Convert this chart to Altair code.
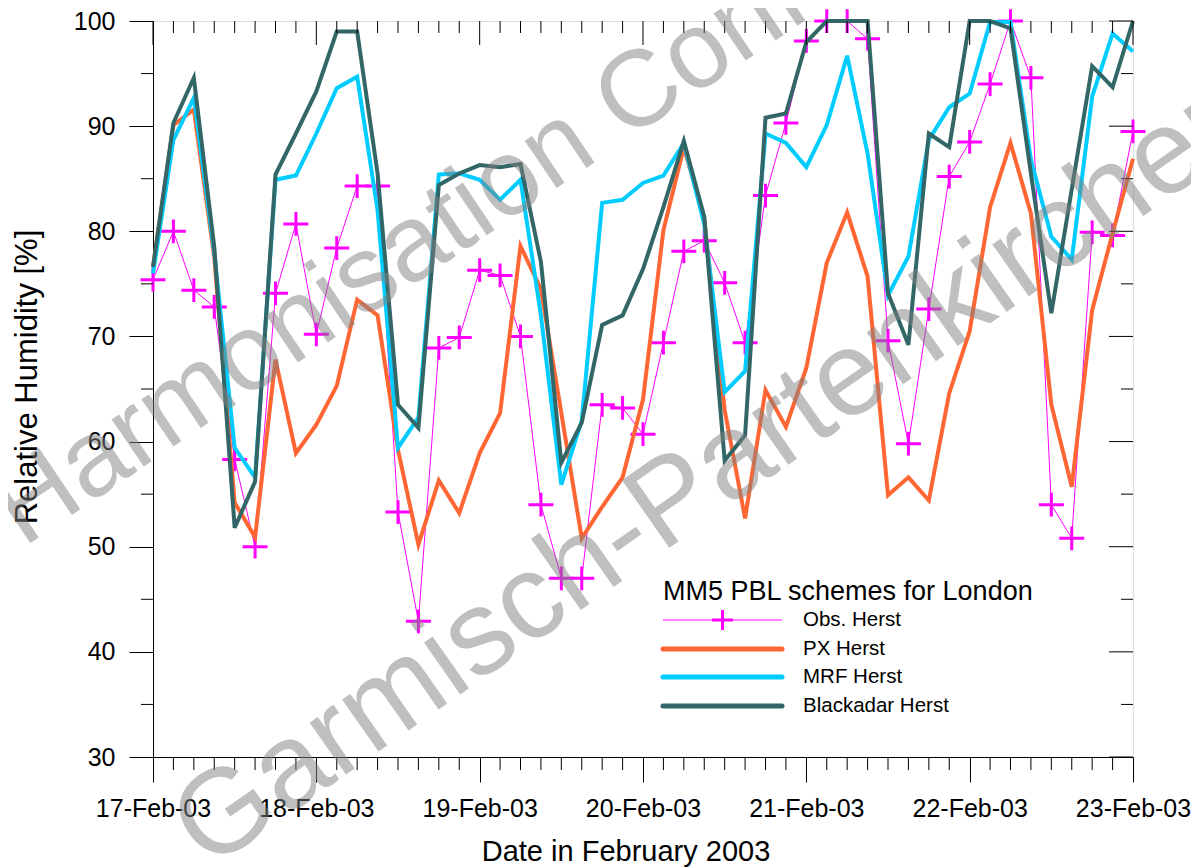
import altair as alt
import pandas as pd

# ---- data (3-hourly values, 17-Feb-03 00:00 to 23-Feb-03 00:00) ----
hours = [3 * i for i in range(49)]
obs = [75.4, 80.0, 74.4, 72.8, 58.3, 50.0, 74.1, 80.7, 70.2, 78.4,
       84.3, 84.3, 53.3, 42.9, 68.9, 69.9, 76.3, 75.8, 70.0, 54.0,
       47.0, 47.0, 63.5, 63.2, 60.7, 69.4, 78.1, 79.1, 75.1, 69.4,
       83.4, 90.3, 98.1, 100.0, 100.0, 98.3, 69.6, 59.8, 72.6, 85.2,
       88.5, 94.0, 100.0, 94.6, 54.0, 50.8, 79.9, 79.6, 89.5]
px = [76.6, 90.1, 91.6, 77.5, 54.2, 50.9, 67.8, 58.9, 61.6, 65.3,
      73.5, 72.0, 59.2, 50.2, 56.3, 53.2, 58.9, 62.7, 78.6, 74.5,
      62.7, 50.8, 53.8, 56.6, 64.0, 80.1, 88.0, 81.2, 63.0, 52.7,
      64.9, 61.4, 67.0, 77.0, 81.8, 75.7, 54.9, 56.6, 54.4, 64.6,
      70.5, 82.3, 88.4, 81.7, 63.5, 55.7, 72.5, 79.8, 86.9]
mrf = [76.0, 88.7, 92.7, 78.0, 59.4, 56.6, 84.9, 85.3, 89.3, 93.6,
       94.7, 82.0, 59.4, 62.3, 85.4, 85.5, 84.9, 83.0, 84.9, 72.0,
       55.9, 62.0, 82.7, 83.0, 84.6, 85.3, 88.4, 80.7, 64.7, 66.7,
       89.3, 88.4, 86.1, 90.1, 96.7, 87.4, 73.9, 77.6, 88.7, 91.8,
       93.1, 99.9, 99.9, 86.8, 79.5, 77.3, 92.8, 98.8, 97.1]
blackadar = [76.6, 90.3, 94.6, 78.5, 51.8, 56.2, 85.4, 89.3, 93.3, 99.0,
             99.0, 85.5, 63.5, 61.3, 84.4, 85.5, 86.3, 86.1, 86.4, 77.1,
             58.0, 61.8, 71.1, 72.0, 76.4, 82.3, 88.6, 81.4, 58.2, 60.6,
             90.8, 91.2, 98.0, 100.0, 100.0, 100.0, 74.1, 69.2, 89.3, 88.0,
             100.0, 100.0, 99.3, 85.5, 72.2, 84.0, 95.7, 93.7, 100.0]
day_labels = ["17-Feb-03", "18-Feb-03", "19-Feb-03", "20-Feb-03",
              "21-Feb-03", "22-Feb-03", "23-Feb-03"]
y_major = [30, 40, 50, 60, 70, 80, 90, 100]
y_minor = [35, 45, 55, 65, 75, 85, 95]
series_names = ["Obs. Herst", "PX Herst", "MRF Herst", "Blackadar Herst"]
series_colors = ["#FF00FF", "#FF6633", "#00CCFF", "#336666"]
x_title = "Date in February 2003"
y_title = "Relative Humidity [%]"
legend_title = "MM5 PBL schemes for London"

W, H = 980, 736
FONT = "Liberation Sans"

day_hours = [24 * k for k in range(len(day_labels))]
minor_hours = [h for h in hours if h % 24 != 0]

df = pd.DataFrame({"h": hours, "obs": obs, "px": px, "mrf": mrf, "bl": blackadar})
one = pd.DataFrame({"a": [0]})
xs = alt.Scale(domain=[0, 144], nice=False, zero=False)
ys = alt.Scale(domain=[30, 100], nice=False, zero=False)

label_expr = "[" + ",".join("'%s'" % s for s in day_labels) + "][round(datum.value/24)]"

base = alt.Chart(df)

obs_line = base.mark_line(color=series_colors[0], strokeWidth=1).encode(
    x=alt.X("h:Q", scale=xs, axis=alt.Axis(
        values=day_hours, labelExpr=label_expr, tickSize=25, grid=False,
        labelFont=FONT, labelFontSize=25, labelColor="black", labelPadding=14,
        labelFlush=False, labelOverlap=False, domainColor="black", tickColor="black",
        title="")),
    y=alt.Y("obs:Q", scale=ys, axis=alt.Axis(
        values=y_major, tickSize=24, grid=False, labelFont=FONT, labelFontSize=25,
        labelColor="black", labelPadding=14, labelFlush=False, domainColor="black",
        tickColor="black", title="")),
)

cross = "M-1,0L1,0M0,-0.95L0,0.95"
obs_pts = base.mark_point(shape=cross, size=625, stroke=series_colors[0], strokeWidth=3,
                          filled=False, opacity=1).encode(
    x=alt.X("h:Q", scale=xs), y=alt.Y("obs:Q", scale=ys))

def model_line(field, color):
    return base.mark_line(color=color, strokeWidth=4).encode(
        x=alt.X("h:Q", scale=xs), y=alt.Y(field + ":Q", scale=ys))

px_line = model_line("px", series_colors[1])
mrf_line = model_line("mrf", series_colors[2])
bl_line = model_line("bl", series_colors[3])

# extra ticks (minor bottom, top inward, left minor, right inward)
dmin = pd.DataFrame({"h": minor_hours})
dday = pd.DataFrame({"h": day_hours})
dy5 = pd.DataFrame({"obs": y_minor})
dy10 = pd.DataFrame({"obs": y_major})

def vtick(data, y0, y1):
    return alt.Chart(data).mark_rule(color="black", strokeWidth=1).encode(
        x=alt.X("h:Q", scale=xs), y=alt.value(y0), y2=alt.value(y1))

def htick(data, x0, x1):
    return alt.Chart(data).mark_rule(color="black", strokeWidth=1).encode(
        y=alt.Y("obs:Q", scale=ys), x=alt.value(x0), x2=alt.value(x1))

ticks = [
    vtick(dmin, H, H + 13),
    vtick(dmin, 0, 12),
    vtick(dday, 0, 24),
    htick(dy5, -12, 0),
    htick(dy5, W - 12, W),
    htick(dy10, W - 24, W),
]

# axis titles
titles = [
    alt.Chart(one).mark_text(text=x_title, font=FONT, fontSize=29, align="center",
                             baseline="middle", color="black").encode(
        x=alt.value(473), y=alt.value(831)),
    alt.Chart(one).mark_text(text=y_title, font=FONT, fontSize=31, align="center",
                             baseline="middle", angle=270, color="black").encode(
        x=alt.value(-125), y=alt.value(356)),
]

# legend
leg_x0, leg_x1, leg_tx = 510, 629, 650
leg_rows = [599, 628, 656, 685]
legend_layers = [
    alt.Chart(one).mark_text(text=legend_title, font=FONT, fontSize=27,
                             align="left", baseline="alphabetic", color="black").encode(
        x=alt.value(leg_x0), y=alt.value(579))
]
for i, (name, color) in enumerate(zip(series_names, series_colors)):
    yy = leg_rows[i]
    legend_layers.append(
        alt.Chart(one).mark_rule(color=color, strokeWidth=1 if i == 0 else 5,
                                 strokeCap="butt" if i == 0 else "round").encode(
            x=alt.value(leg_x0), x2=alt.value(leg_x1), y=alt.value(yy)))
    legend_layers.append(
        alt.Chart(one).mark_text(text=name, font=FONT, fontSize=20.5, align="left",
                                 baseline="middle", color="black").encode(
            x=alt.value(leg_tx), y=alt.value(yy)))
legend_layers.append(
    alt.Chart(one).mark_point(shape=cross, size=441, stroke=series_colors[0], strokeWidth=3,
                              filled=False, opacity=1).encode(
        x=alt.value((leg_x0 + leg_x1) / 2), y=alt.value(leg_rows[0])))

# watermark
wm1 = alt.Chart(one).mark_text(text="Harmonisation Conference", font=FONT, fontSize=108,
                               angle=326, align="left", baseline="alphabetic",
                               color="#808080", opacity=0.5).encode(
    x=alt.value(-130), y=alt.value(527))
wm2 = alt.Chart(one).mark_text(text="Garmisch-Partenkirchen", font=FONT, fontSize=120,
                               angle=325, align="left", baseline="alphabetic",
                               color="#808080", opacity=0.5).encode(
    x=alt.value(55), y=alt.value(850))

chart = alt.layer(
    obs_line, obs_pts, px_line, mrf_line, bl_line, *ticks, *titles, *legend_layers, wm1, wm2
).properties(
    width=W, height=H,
    autosize=alt.AutoSizeParams(type="none"),
    padding={"left": 145, "top": 13, "right": 58, "bottom": 110},
).configure_view(stroke="black", strokeWidth=1).configure(background="white")

chart.save("out.html", embed_options={"renderer": "svg", "actions": False})
